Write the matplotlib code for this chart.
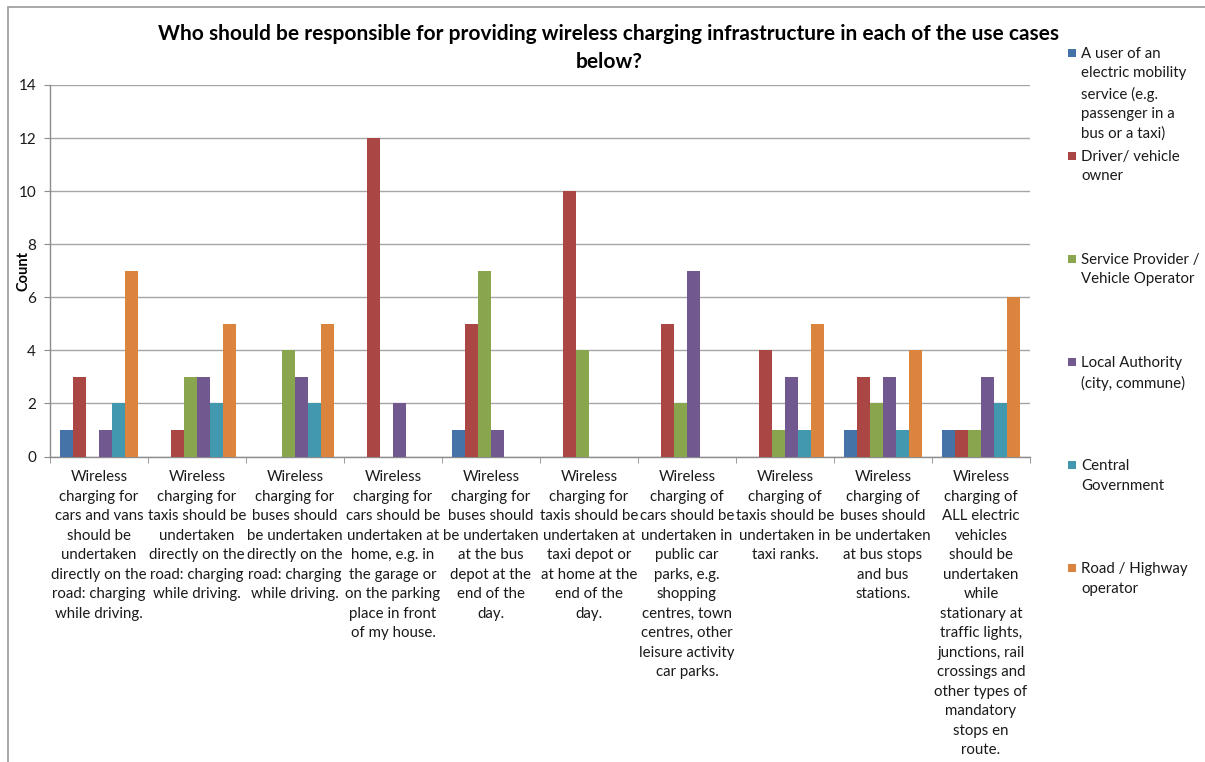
import matplotlib

matplotlib.use("Agg")
import matplotlib.pyplot as plt  # noqa: E402
import numpy as np  # noqa: E402
from matplotlib.patches import Rectangle  # noqa: E402

plt.rcParams["font.family"] = ["Lato", "DejaVu Sans"]

TITLE = ("Who should be responsible for providing wireless charging infrastructure in each of the use cases\n"
         "below?")

use_cases = [
    "Wireless\ncharging for\ncars and vans\nshould be\nundertaken\ndirectly on the\nroad: charging\nwhile driving.",
    "Wireless\ncharging for\ntaxis should be\nundertaken\ndirectly on the\nroad: charging\nwhile driving.",
    "Wireless\ncharging for\nbuses should\nbe undertaken\ndirectly on the\nroad: charging\nwhile driving.",
    "Wireless\ncharging for\ncars should be\nundertaken at\nhome, e.g. in\nthe garage or\non the parking\nplace in front\nof my house.",
    "Wireless\ncharging for\nbuses should\nbe undertaken\nat the bus\ndepot at the\nend of the\nday.",
    "Wireless\ncharging for\ntaxis should be\nundertaken at\ntaxi depot or\nat home at the\nend of the\nday.",
    "Wireless\ncharging of\ncars should be\nundertaken in\npublic car\nparks, e.g.\nshopping\ncentres, town\ncentres, other\nleisure activity\ncar parks.",
    "Wireless\ncharging of\ntaxis should be\nundertaken in\ntaxi ranks.",
    "Wireless\ncharging of\nbuses should\nbe undertaken\nat bus stops\nand bus\nstations.",
    "Wireless\ncharging of\nALL electric\nvehicles\nshould be\nundertaken\nwhile\nstationary at\ntraffic lights,\njunctions, rail\ncrossings and\nother types of\nmandatory\nstops en\nroute.",
]

responders = [
    "A user of an\nelectric mobility\nservice (e.g.\npassenger in a\nbus or a taxi)",
    "Driver/ vehicle\nowner",
    "Service Provider /\nVehicle Operator",
    "Local Authority\n(city, commune)",
    "Central\nGovernment",
    "Road / Highway\noperator",
]

user_service = [1, 0, 0, 0, 1, 0, 0, 0, 1, 1]
driver_owner = [3, 1, 0, 12, 5, 10, 5, 4, 3, 1]
service_provider = [0, 3, 4, 0, 7, 4, 2, 1, 2, 1]
local_authority = [1, 3, 3, 2, 1, 0, 7, 3, 3, 3]
central_gov = [2, 2, 2, 0, 0, 0, 0, 1, 1, 2]
road_operator = [7, 5, 5, 0, 0, 0, 0, 5, 4, 6]

counts = [user_service, driver_owner, service_provider, local_authority, central_gov, road_operator]
colors = ["#4572A7", "#AA4643", "#89A54E", "#71588F", "#4198AF", "#DB843D"]

TEXT = "#1a1a1a"
AXIS = "#8c8c8c"
LABEL_SIZE = 10.8
LABEL_SPACING = 1.5

W, H = 1205, 762
fig = plt.figure(figsize=(W / 100, H / 100), dpi=100)
fig.patch.set_facecolor("white")

# chart-area border (runs off the right and bottom edges)
fig.add_artist(Rectangle((8 / W, -0.05), 1.1, 1 - 7 / H + 0.05, transform=fig.transFigure,
                         fill=False, edgecolor="#9a9a9a", linewidth=1.2))

ax = fig.add_axes([50 / W, 1 - 456.5 / H, 980 / W, (456.5 - 85) / H])

x = np.arange(len(use_cases))
n = len(counts)
w = 0.8 / n
for i, vals in enumerate(counts):
    ax.bar(x + (i - (n - 1) / 2) * w, vals, width=w, color=colors[i], linewidth=0, zorder=3)

ax.set_xlim(-0.5, len(use_cases) - 0.5)
ax.set_ylim(0, 14)
ax.set_yticks(range(0, 15, 2))
ax.grid(axis="y", color="#a6a6a6", linewidth=1)
ax.set_axisbelow(True)
for s in ("top", "right"):
    ax.spines[s].set_visible(False)
for s in ("left", "bottom"):
    ax.spines[s].set_color(AXIS)
    ax.spines[s].set_linewidth(1)

ax.set_xticks(x)
ax.set_xticklabels(use_cases, fontsize=LABEL_SIZE, color=TEXT, linespacing=LABEL_SPACING, va="top")
ax.set_xticks(np.arange(-0.5, len(use_cases)), minor=True)
ax.tick_params(axis="x", which="major", length=0, pad=10)
ax.tick_params(axis="x", which="minor", length=4, color=AXIS, direction="out")
ax.tick_params(axis="y", length=4, color=AXIS, labelsize=11, labelcolor=TEXT, pad=6)
ax.set_ylabel("Count", fontsize=10.5, fontweight="bold")
ax.yaxis.set_label_coords(-20 / 980, 0.5)

fig.text(609 / W, 1 - 48 / H, TITLE, ha="center", va="center", fontsize=15,
         fontweight="bold", linespacing=1.5)

# legend drawn entry by entry so entries sit at equal spacing
for i, label in enumerate(responders):
    ymid = 53 + i * 103
    fig.add_artist(Rectangle((1068 / W, 1 - (ymid + 4) / H), 8 / W, 8 / H,
                             transform=fig.transFigure, facecolor=colors[i], edgecolor="none"))
    fig.text(1081 / W, 1 - (ymid - 6) / H, label, ha="left", va="top", fontsize=LABEL_SIZE,
             color=TEXT, linespacing=LABEL_SPACING)

fig.savefig("out.png", dpi=100, facecolor="white")
